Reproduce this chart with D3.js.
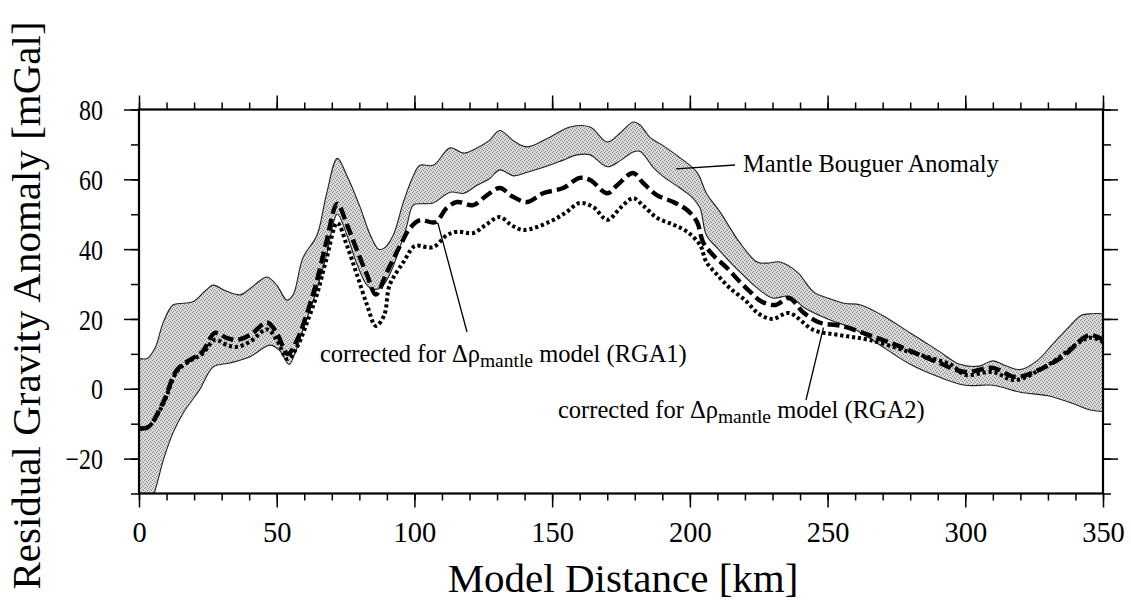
<!DOCTYPE html>
<html>
<head>
<meta charset="utf-8">
<script src="https://cdn.jsdelivr.net/npm/d3@7"></script>
<style>
  html, body { margin: 0; padding: 0; background: #fff; }
  svg { display: block; }
  svg text { font-family: "Liberation Serif", "DejaVu Serif", serif; }
</style>
</head>
<body>
<svg id="chart" width="1131" height="604"></svg>
<script>
// Profile values: [model distance (km), anomaly (mGal)]
const bouguerUpper = [
  [0,8.7],[3,8.7],[6,12],[8.7,18.8],[12.3,24],[16,24.5],[19.6,24.9],[24,28],[27,29.7],[31,28.2],
  [36.7,26.9],[40,28.5],[44,31],[46.5,32],[50,29.7],[53.7,25.4],[56,27],[59.5,37.5],[64.6,44],
  [68,55.5],[72,66],[75.5,61],[80,52.6],[84,44],[87,40],[89,40.3],[92.3,44],[96,53.5],[99.6,61],
  [102,64],[106.8,64],[113,69],[118,67.5],[122.7,69],[127,71],[131,74],[136,71],[141,69.3],
  [149,72],[156.5,75],[163.8,75],[170,70.7],[175,73.5],[179.4,76.4],[182,75.5],[185.5,72],
  [190,69.8],[195,67],[202.6,62],[206,56],[211,50.6],[218,42],[224.4,36.3],[228,36],[232.7,36.3],
  [239,33.4],[245,27.7],[250,26],[256,24.5],[262,24],[270,21],[280,16],[290,11],[298,7],
  [305,6.5],[310,8],[315,6.5],[320,5.5],[326,8],[332,13],[338,18],[342,21],[346,21.5],[350,21.5]
];
const bouguerLower = [
  [0,-42],[5.5,-30],[9,-20],[12.3,-12.7],[16,-7],[22,-0.3],[27,6.3],[33,7.4],[40.3,9.2],
  [47.6,12.5],[51,11],[54.5,7],[57,11],[60,18],[64,27],[68,38],[72,50],[75.5,44],[79,36],
  [83,29.5],[86.4,28.5],[89,30],[92,34.5],[97,46],[99.6,52.6],[103,53],[106.8,53.2],[113,56.3],
  [118,56],[122.7,58.3],[127,60],[131,62.7],[136,61],[141,62],[149,64],[154,65.5],[159,67],
  [163.8,67],[170,63.6],[175,65.5],[179.4,67.8],[182,68],[186.6,63.5],[190,61],[196.4,57.5],
  [201,54.7],[203.7,51.8],[206,44],[210,40.3],[214.6,36.3],[219.3,32.6],[224.4,28.9],[230,26],
  [236,26.5],[242,23],[250,20],[260,17],[270,12],[280,7],[290,3.5],[300,1],[310,1],[320,-1],
  [330,-2],[340,-4.5],[345,-6],[350,-6.5]
];
const rga1 = [
  [0,-11.3],[3.3,-11],[8.7,-4],[13.8,5.4],[18.5,8.3],[23,10.6],[27.6,16],[32,14.5],[35.5,14],
  [40.3,15.4],[46.5,19],[50,16],[54,10],[57.4,14],[61,21.6],[64.6,31],[68,42],[72,53],[75.5,47],
  [79,40],[82.8,32.6],[86,27],[90,33.4],[94.8,41],[98.4,46],[102,48.3],[107.5,47.7],[111.8,51.8],
  [115.5,53.5],[121.3,52.6],[126.4,55.5],[131,57.5],[135.8,55],[141,53.5],[146.7,56],[154,57.5],
  [160,60.4],[163.8,59.8],[170,56],[173.6,58.3],[179.4,61.8],[183,59],[188,55.5],[194,53.5],
  [199,51.2],[202.6,47.8],[204.8,42],[208.4,38.3],[213.5,34.6],[218.2,30.6],[222,27.7],[226,25],
  [231,24],[236,26],[241,22],[247,19],[255,18],[265,15.4],[275,12.5],[290,7.6],[300,4.8],
  [310,6],[318,3.4],[325,4.8],[335,9],[345,15.4],[350,14]
];
const rga2 = [
  [0,-11.3],[3.3,-11],[8.7,-4.5],[13.8,5],[18.5,8],[23,10],[27.6,14],[32,12.5],[35.5,12],
  [40.3,13.5],[46.5,17],[50,14],[54,8.5],[57.4,12],[61,19],[64.6,27],[68,37],[72,47.5],[75.5,41],
  [79,33],[82.8,24],[86,18],[89,21],[91,29.7],[96,36.3],[99.6,40.6],[101,41],[106.8,40.6],
  [111.8,44],[115.5,45],[121.3,44.6],[126,47],[131,49.2],[135,47],[139.5,45.5],[149,47.8],
  [155,50.5],[160,53.2],[165,52],[170,48.4],[175,52],[179.4,54.6],[183,52.5],[188,49],[194,47],
  [199,45],[203.7,41.2],[206,36.3],[210,32.6],[214.6,28.8],[220,25.4],[225,21.5],[230,20],
  [236,21.7],[245,16.8],[255,15.3],[265,14],[280,10.5],[295,6.8],[300,4],[310,4.8],[318,2.5],
  [330,6.8],[345,14.6],[350,13.4]
];

// Axis ticks and labels
const xMajorTicks = [0, 50, 100, 150, 200, 250, 300, 350];
const xMinorTicks = d3.range(0, 351, 10);
const yMajorTicks = [-20, 0, 20, 40, 60, 80];
const yMinorTicks = d3.range(-30, 81, 10);
const xTitle = "Model Distance [km]";
const yTitle = "Residual Gravity Anomaly [mGal]";

const SERIF = '"Liberation Serif", "DejaVu Serif", serif';
const svg = d3.select("#chart");
const plot = { left: 139, right: 1103, top: 109.5, bottom: 493.5 };

const x = d3.scaleLinear().domain([0, 350]).range([plot.left, plot.right]);
const y = d3.scaleLinear().domain([-30, 80]).range([plot.bottom, plot.top]);

const defs = svg.append("defs");
defs.append("clipPath").attr("id", "plotClip")
  .append("rect")
  .attr("x", plot.left).attr("y", plot.top)
  .attr("width", plot.right - plot.left).attr("height", plot.bottom - plot.top);

// Stippled fill for the anomaly band
const pat = defs.append("pattern").attr("id", "stipple")
  .attr("patternUnits", "userSpaceOnUse").attr("width", 4).attr("height", 4);
pat.append("rect").attr("width", 4).attr("height", 4).attr("fill", "#dadada");
[[0,0],[2,1],[1,3],[3,2]].forEach(([px, py]) =>
  pat.append("rect").attr("x", px).attr("y", py).attr("width", 1).attr("height", 1).attr("fill", "#8c8c8c"));

const curve = d3.curveCatmullRom.alpha(0.5);
const line = d3.line().x(d => x(d[0])).y(d => y(d[1])).curve(curve);

// Band between the two boundaries: upper edge forward, lower edge back
const lowerRev = bouguerLower.slice().reverse();
const bandPath = line(bouguerUpper) + line(lowerRev).replace(/^M/, "L") + "Z";

const g = svg.append("g").attr("clip-path", "url(#plotClip)");
g.append("path").attr("d", bandPath).attr("fill", "url(#stipple)").attr("stroke", "none");
g.append("path").attr("d", line(bouguerUpper)).attr("fill", "none").attr("stroke", "#222").attr("stroke-width", 1.1);
g.append("path").attr("d", line(bouguerLower)).attr("fill", "none").attr("stroke", "#222").attr("stroke-width", 1.1);

g.append("path").attr("d", line(rga2)).attr("fill", "none")
  .attr("stroke", "#000").attr("stroke-width", 4).attr("stroke-dasharray", "3.2,2.8");
g.append("path").attr("d", line(rga1)).attr("fill", "none")
  .attr("stroke", "#000").attr("stroke-width", 4.4).attr("stroke-dasharray", "12,5");

// Frame
svg.append("rect")
  .attr("x", plot.left).attr("y", plot.top)
  .attr("width", plot.right - plot.left).attr("height", plot.bottom - plot.top)
  .attr("fill", "none").attr("stroke", "#000").attr("stroke-width", 2.2);

function drawAxis(axisFn, scale, ticks, size, transform, labels) {
  const a = axisFn(scale).tickValues(ticks).tickSize(size).tickSizeOuter(0)
    .tickPadding(8);
  if (!labels) a.tickFormat("");
  const gg = svg.append("g").attr("transform", transform).call(a);
  gg.attr("font-family", null).attr("font-size", null);
  gg.select(".domain").remove();
  gg.selectAll(".tick line").attr("stroke", "#000").attr("stroke-width", 1.5);
  return gg;
}

// Minor ticks on all four sides
drawAxis(d3.axisBottom, x, xMinorTicks, 7, `translate(0,${plot.bottom})`, false);
drawAxis(d3.axisTop, x, xMinorTicks, 7, `translate(0,${plot.top})`, false);
drawAxis(d3.axisLeft, y, yMinorTicks, 8, `translate(${plot.left},0)`, false);
drawAxis(d3.axisRight, y, yMinorTicks, 8, `translate(${plot.right},0)`, false);

// Major ticks
const xb = drawAxis(d3.axisBottom, x, xMajorTicks, 14, `translate(0,${plot.bottom})`, true);
drawAxis(d3.axisTop, x, xMajorTicks, 14, `translate(0,${plot.top})`, false);
const yl = drawAxis(d3.axisLeft, y, yMajorTicks, 15, `translate(${plot.left},0)`, true);
drawAxis(d3.axisRight, y, yMajorTicks, 15, `translate(${plot.right},0)`, false);

xb.selectAll(".tick text")
  .style("font-family", SERIF).attr("font-size", 30).attr("fill", "#000")
  .attr("y", 0).attr("dy", 0)
  .attr("transform", "translate(0,48) scale(0.95,1)");
yl.selectAll(".tick text")
  .style("font-family", SERIF).attr("font-size", 30).attr("fill", "#000")
  .attr("x", 0).attr("dy", "0.34em")
  .attr("transform", "translate(-36,0) scale(0.8,1)");

// Axis titles
svg.append("text")
  .style("font-family", SERIF)
  .attr("x", (plot.left + plot.right) / 2 + 2).attr("y", 592)
  .attr("text-anchor", "middle").attr("font-size", 41).attr("fill", "#000")
  .text(xTitle);
svg.append("text")
  .style("font-family", SERIF)
  .attr("transform", `translate(40,${(plot.top + plot.bottom) / 2 + 4}) rotate(-90)`)
  .attr("text-anchor", "middle").attr("font-size", 41).attr("fill", "#000")
  .text(yTitle);

// Annotations with leader lines
const ann = svg.append("g").attr("fill", "#000");
ann.append("line").attr("x1", x(195)).attr("y1", y(63)).attr("x2", 735).attr("y2", 165)
  .attr("stroke", "#000").attr("stroke-width", 1.3);
ann.append("text").style("font-family", SERIF)
  .attr("x", 743).attr("y", 172).attr("font-size", 24.5).text("Mantle Bouguer Anomaly");

function corrLabel(xp, yp, tag) {
  const t = ann.append("text").style("font-family", SERIF)
    .attr("x", xp).attr("y", yp).attr("font-size", 24.5);
  t.append("tspan").text("corrected for \u0394\u03c1");
  t.append("tspan").attr("font-size", 19.5).attr("dy", 5).text("mantle");
  t.append("tspan").attr("dy", -5).text(" model (" + tag + ")");
}
ann.append("line").attr("x1", x(108.5)).attr("y1", y(47.5)).attr("x2", 467).attr("y2", 332)
  .attr("stroke", "#000").attr("stroke-width", 1.3);
corrLabel(320, 362, "RGA1");
ann.append("line").attr("x1", x(248.5)).attr("y1", y(17.5)).attr("x2", 806).attr("y2", 400)
  .attr("stroke", "#000").attr("stroke-width", 1.3);
corrLabel(558, 418, "RGA2");
</script>
</body>
</html>
